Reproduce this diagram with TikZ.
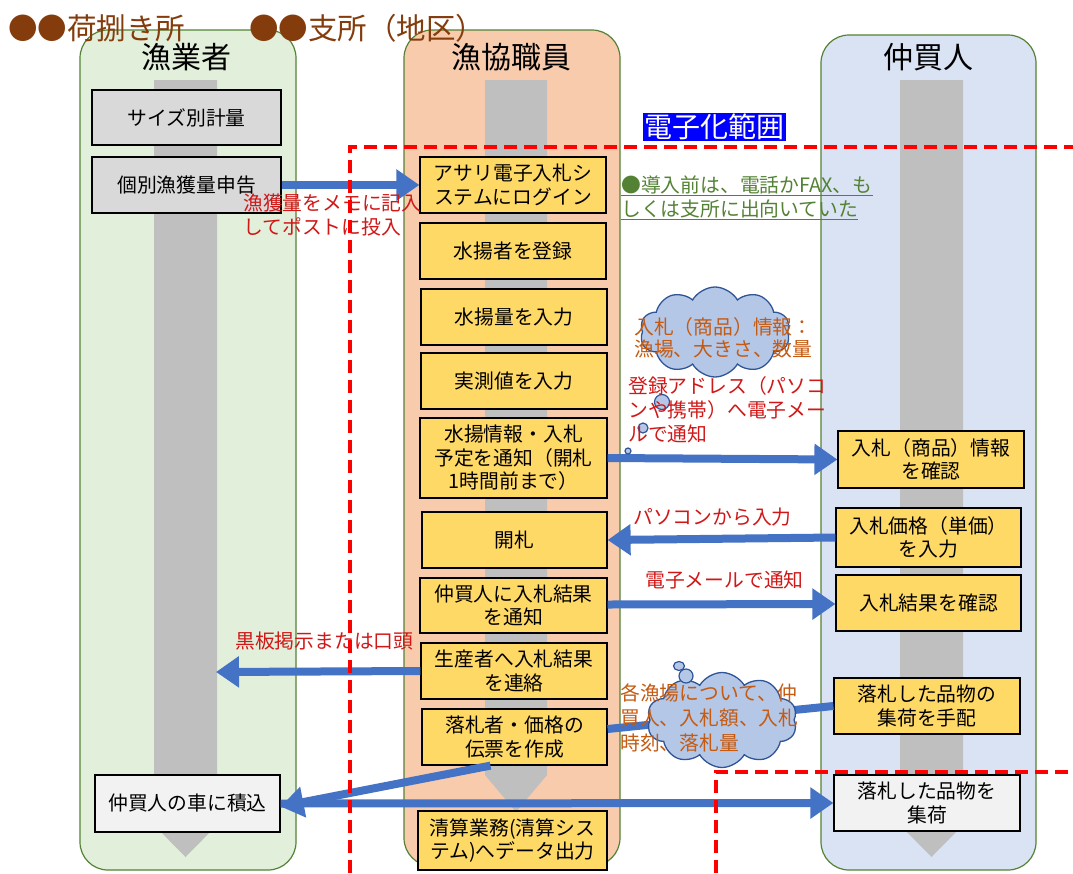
\documentclass[tikz,border=0pt]{standalone}
\usepackage{fontspec}
\setmainfont{Noto Sans CJK JP}
\usetikzlibrary{arrows.meta,shapes.symbols,shapes.geometric}
\definecolor{lgreen}{HTML}{E2EFDA}
\definecolor{lorange}{HTML}{F8CBAD}
\definecolor{lblue}{HTML}{DAE3F3}
\definecolor{laneborder}{HTML}{548235}
\definecolor{shaft}{HTML}{BFBFBF}
\definecolor{yel}{HTML}{FFD966}
\definecolor{gbox}{HTML}{D9D9D9}
\definecolor{wbox}{HTML}{F2F2F2}
\definecolor{arrblue}{HTML}{4472C4}
\definecolor{brown}{HTML}{843C0C}
\definecolor{annred}{HTML}{D01818}
\definecolor{anngreen}{HTML}{548235}
\definecolor{orng}{HTML}{C55A11}
\definecolor{cloudfill}{HTML}{B4C7E7}
\definecolor{cloudline}{HTML}{2F5597}
\begin{document}
\begin{tikzpicture}[x=1pt,y=-1pt,
  lane/.style={draw=laneborder,line width=1.2pt,rounded corners=28pt,inner sep=0pt},
  title/.style={font=\fontsize{30}{34}\selectfont},
  box/.style={draw=black,line width=1.2pt,align=center,inner sep=0pt,
    font=\fontsize{19.8}{23.5}\selectfont,minimum width=186pt,minimum height=56pt},
  ybox/.style={box,fill=yel},
  ann/.style={align=left,inner sep=0pt,anchor=west,font=\fontsize{19.8}{24}\selectfont},
  flow/.style={arrblue,line width=8pt,-{Triangle[length=23pt,width=30pt]}},
  scopeline/.style={red,line width=4pt,dash pattern=on 13pt off 7pt},
  cloudnode/.style={cloud,cloud puffs=10,cloud puff arc=120,cloud ignores aspect,
    draw=cloudline,fill=cloudfill,line width=1.3pt,inner sep=0pt},
  bubble/.style={circle,draw=cloudline,fill=cloudfill,line width=1.2pt,inner sep=0pt}
]
\useasboundingbox (0,0) rectangle (1073,873);

% lanes
\node[lane,fill=lgreen,minimum width=216pt,minimum height=840pt] (L1) at (188,450) {};
\node[lane,fill=lorange,minimum width=216pt,minimum height=836pt] (L2) at (512,448) {};
\node[lane,fill=lblue,minimum width=215pt,minimum height=835pt] (L3) at (928.5,452.5) {};

% gray process arrows
\fill[shaft] (154,80) -- (217,80) -- (217,825) -- (185.5,857) -- (154,825) -- cycle;
\fill[shaft] (485,80) -- (547,80) -- (547,775) -- (516,812) -- (485,775) -- cycle;
\fill[shaft] (900,80) -- (963,80) -- (963,825) -- (931.5,857) -- (900,825) -- cycle;

% titles
\node[title] (T1) at (186,57) {漁業者};
\node[title] (T2) at (511,57) {漁協職員};
\node[title] (T3) at (928,57) {仲買人};

% header labels
\node[anchor=west,inner sep=0pt,text=brown,font=\fontsize{29.5}{32}\selectfont] (H1) at (8,28) {●●荷捌き所};
\node[anchor=west,inner sep=0pt,text=brown,font=\fontsize{29.5}{32}\selectfont] (H2) at (249,28) {●●支所（地区）};

% lane 1 boxes
\node[box,fill=gbox,minimum width=189pt,minimum height=55pt] (s1) at (186.5,117.5) {サイズ別計量};
\node[box,fill=gbox,minimum width=189pt] (s2) at (186.5,185) {個別漁獲量申告};
\node[box,fill=wbox,minimum width=185pt,minimum height=57pt] (s3) at (187.5,803.5) {仲買人の車に積込};

% lane 2 boxes
\node[ybox] (k1) at (513,185) {アサリ電子入札シ\\ステムにログイン};
\node[ybox] (k2) at (513,251) {水揚者を登録};
\node[ybox] (k3) at (514,317) {水揚量を入力};
\node[ybox] (k4) at (514,381) {実測値を入力};
\node[ybox,minimum width=187pt,minimum height=80pt] (k5) at (513.5,458) {水揚情報・入札\\予定を通知（開札\\1時間前まで）};
\node[ybox,minimum width=185pt] (k6) at (514.5,540) {開札};
\node[ybox,minimum width=187pt,minimum height=55pt] (k7) at (513.5,605.5) {仲買人に入札結果\\を通知};
\node[ybox] (k8) at (514,671) {生産者へ入札結果\\を連絡};
\node[ybox,minimum width=185pt] (k9) at (514.5,737) {落札者・価格の\\伝票を作成};
\node[ybox,minimum width=189pt,minimum height=59pt] (k10) at (512.5,840.5) {清算業務(清算シス\\テム)へデータ出力};

% lane 3 boxes
\node[ybox,minimum height=57pt] (n1) at (931,459.5) {入札（商品）情報\\を確認};
\node[ybox,minimum width=185pt,minimum height=59pt] (n2) at (928.5,537.5) {入札価格（単価）\\を入力};
\node[ybox,minimum width=185pt] (n3) at (928.5,603) {入札結果を確認};
\node[ybox] (n4) at (927,706) {落札した品物の\\集荷を手配};
\node[box,fill=wbox] (n5) at (927,803) {落札した品物を\\集荷};

% connectors
\coordinate (p5) at (216,672);
\draw[flow] (s2.east) -- (k1.west);
\draw[flow] (k5.east) -- (n1.west);
\draw[flow] (n2.west) -- (k6.east);
\draw[flow] ([yshift=1pt]k7.east) -- ([yshift=-1pt]n3.west);
\draw[flow] (k8.west) -- (p5);
\draw[arrblue,line width=8pt] ([yshift=8pt]k9.east) -- (n4.west);
\draw[flow] ([xshift=-24pt]k9.south) -- ([yshift=-3pt]s3.east);
\draw[flow] (s3.east) -- (n5.west);

% clouds
\node[cloudnode,minimum width=150pt,minimum height=90pt] (c1) at (715,332) {};
\node[bubble,minimum size=15pt] (b1) at (662,402) {};
\node[bubble,minimum size=10pt] (b2) at (643,428) {};
\node[bubble,minimum size=6pt] (b3) at (628,451) {};
\node[cloudnode,minimum width=150pt,minimum height=95pt] (c2) at (722,720) {};
\node[bubble,minimum size=14pt] (b4) at (686,676) {};
\node[bubble,ellipse,minimum width=11pt,minimum height=9pt] (b5) at (679,666) {};

% annotations
\node[ann,text=annred] (a1) at (243,215) {漁獲量をメモに記入\\してポストに投入};
\node[ann,text=anngreen] (a2) at (621,198) {\underline{●導入前は、電話かFAX、も}\\\underline{しくは支所に出向いていた}};
\node[ann,text=orng,font=\fontsize{19.8}{22}\selectfont] (a3) at (634,338) {入札（商品）情報：\\漁場、大きさ、数量};
\node[ann,text=annred] (a4) at (628,410) {登録アドレス（パソコ\\ンや携帯）へ電子メー\\ルで通知};
\node[ann,text=annred] (a5) at (633,517) {パソコンから入力};
\node[ann,text=annred] (a6) at (645,580) {電子メールで通知};
\node[ann,text=annred] (a7) at (235,641) {黒板掲示または口頭};
\node[ann,text=orng,font=\fontsize{19.8}{25}\selectfont] (a8) at (620,718) {各漁場について、仲\\買人、入札額、入札\\時刻、落札量};

% scope lines
\draw[scopeline] (350,873) -- (350,147) -- (1073,147);
\draw[scopeline] (716,873) -- (716,772) -- (1073,772);
\node[fill=blue,text=white,inner sep=1.5pt,font=\fontsize{28}{30}\selectfont] (E) at (714,127) {電子化範囲};
\end{tikzpicture}
\end{document}
